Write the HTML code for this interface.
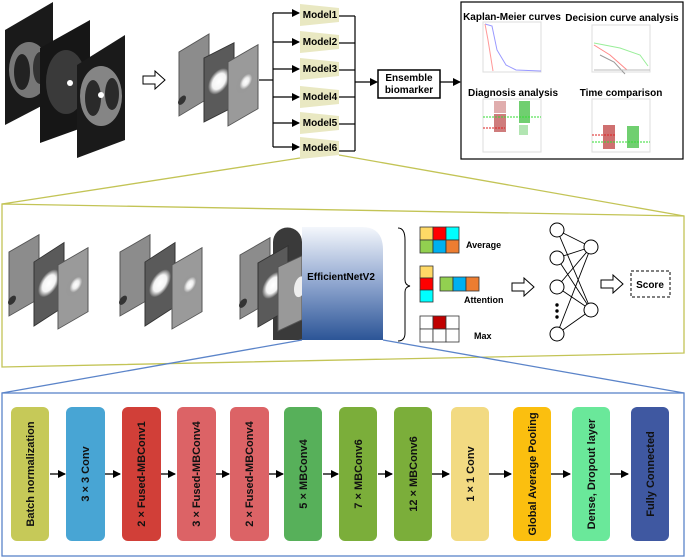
<!DOCTYPE html>
<html><head><meta charset="utf-8"><style>
html,body{margin:0;padding:0;background:#fff;}
svg{display:block;font-family:"Liberation Sans",Arial,sans-serif;}
</style></head><body>
<svg width="685" height="558" viewBox="0 0 685 558" xmlns="http://www.w3.org/2000/svg">
<defs>
<radialGradient id="spot" cx="0.55" cy="0.5" r="0.35"><stop offset="0" stop-color="#fff"/><stop offset="0.5" stop-color="#eee"/><stop offset="1" stop-color="#999"/></radialGradient>
<radialGradient id="spot2" cx="0.5" cy="0.5" r="0.5"><stop offset="0" stop-color="#fff"/><stop offset="0.6" stop-color="#f4f4f4"/><stop offset="1" stop-color="#5a5a5a"/></radialGradient>
<linearGradient id="eff" x1="0" y1="0" x2="0" y2="1"><stop offset="0" stop-color="#f4f7fc"/><stop offset="0.5" stop-color="#8fa6cf"/><stop offset="1" stop-color="#2c5597"/></linearGradient>
<marker id="ah" markerWidth="8" markerHeight="8" refX="7" refY="4" orient="auto" markerUnits="userSpaceOnUse"><path d="M0,0 L8,4 L0,8 z" fill="#000"/></marker>
<g id="pA"><rect width="30" height="64" fill="#8c8c8c" stroke="#555" stroke-width="1"/><ellipse cx="3" cy="50" rx="4" ry="4" fill="#333"/></g>
<g id="pB"><rect width="30" height="64" fill="#5a5a5a" stroke="#333" stroke-width="1"/><ellipse cx="15" cy="31" rx="11" ry="12" fill="url(#spot2)"/></g>
<g id="pC"><rect width="30" height="64" fill="#9a9a9a" stroke="#555" stroke-width="1"/><ellipse cx="17" cy="30" rx="9" ry="10" fill="url(#spot)"/></g>
<path id="hollow" d="M0,-4 L12,-4 L12,-9 L22,0 L12,9 L12,4 L0,4 z" fill="#fff" stroke="#000" stroke-width="1"/>
</defs>

<!-- CT slices -->
<g>
<polygon points="5,30 53,2 53,100 5,125" fill="#1a1a1a"/>
<ellipse cx="29" cy="70" rx="20" ry="28" fill="#777"/><ellipse cx="22" cy="72" rx="8" ry="18" fill="#222"/><ellipse cx="40" cy="68" rx="7" ry="16" fill="#333"/>
<polygon points="40,48 90,20 90,125 40,143" fill="#161616"/>
<ellipse cx="66" cy="82" rx="20" ry="32" fill="#3a3a3a"/><circle cx="70" cy="83" r="3" fill="#fff"/>
<polygon points="77,65 125,35 125,140 77,158" fill="#1a1a1a"/>
<ellipse cx="101" cy="96" rx="21" ry="30" fill="#858585"/><ellipse cx="93" cy="98" rx="8" ry="18" fill="#2a2a2a"/><ellipse cx="112" cy="94" rx="7" ry="16" fill="#2a2a2a"/><circle cx="101" cy="95" r="3" fill="#fff"/>
</g>
<use href="#hollow" x="143" y="80"/>
<g transform="translate(179,52) skewY(-31)"><use href="#pA"/></g>
<g transform="translate(204,58) skewY(-27)"><use href="#pB"/></g>
<g transform="translate(228,62) skewY(-30)"><use href="#pC"/></g>
<g stroke="#000" stroke-width="1.2" fill="none">
<line x1="259" y1="80" x2="273" y2="80"/>
<line x1="273" y1="13" x2="273" y2="147"/>
<line x1="273" y1="13" x2="299" y2="13" marker-end="url(#ah)"/>
<line x1="273" y1="42" x2="299" y2="42" marker-end="url(#ah)"/>
<line x1="273" y1="69" x2="299" y2="69" marker-end="url(#ah)"/>
<line x1="273" y1="97" x2="299" y2="97" marker-end="url(#ah)"/>
<line x1="273" y1="123" x2="299" y2="123" marker-end="url(#ah)"/>
<line x1="273" y1="147" x2="299" y2="147" marker-end="url(#ah)"/>
<line x1="355" y1="16" x2="355" y2="151"/>
<line x1="339" y1="16" x2="355" y2="16"/><line x1="339" y1="43" x2="355" y2="43"/><line x1="339" y1="70" x2="355" y2="70"/><line x1="339" y1="97" x2="355" y2="97"/><line x1="339" y1="124" x2="355" y2="124"/><line x1="339" y1="151" x2="355" y2="151"/>
<line x1="355" y1="82" x2="377" y2="82" marker-end="url(#ah)"/>
<line x1="440" y1="82" x2="460" y2="82" marker-end="url(#ah)"/>
</g>
<g font-size="10" font-weight="bold" text-anchor="middle">
<g fill="#e9e8c2"><polygon points="300,4 339,8 339,22 300,26"/><polygon points="300,31 339,35 339,49 300,53"/><polygon points="300,58 339,62 339,76 300,80"/><polygon points="300,86 339,90 339,104 300,108"/><polygon points="300,112 339,116 339,130 300,134"/><polygon points="300,137 339,141 339,155 300,159"/></g>
<text x="320" y="18">Model1</text><text x="320" y="45">Model2</text><text x="320" y="72">Model3</text><text x="320" y="100">Model4</text><text x="320" y="126">Model5</text><text x="320" y="151">Model6</text>
</g>
<rect x="378" y="70" width="62" height="28" fill="#fff" stroke="#000" stroke-width="1.5"/>
<text x="409" y="81" font-size="10" font-weight="bold" text-anchor="middle">Ensemble</text>
<text x="409" y="93" font-size="10" font-weight="bold" text-anchor="middle">biomarker</text>
<rect x="461" y="2" width="222" height="157" fill="#fff" stroke="#000" stroke-width="1.2"/>
<g font-size="10" font-weight="bold" text-anchor="middle">
<text x="512" y="20">Kaplan-Meier curves</text><text x="622" y="21">Decision curve analysis</text>
<text x="513" y="96">Diagnosis analysis</text><text x="621" y="96">Time comparison</text>
</g>
<g fill="#fff" stroke="#ddd"><rect x="483" y="22" width="58" height="50"/><rect x="592" y="25" width="58" height="47"/><rect x="483" y="99" width="58" height="53"/><rect x="592" y="99" width="58" height="53"/></g>
<path d="M485,24 L492,26 L497,50 L506,65 L516,70 L541,71" fill="none" stroke="#99f" stroke-width="1"/>
<path d="M485,24 L488,40 L493,71" fill="none" stroke="#f99" stroke-width="1"/>
<path d="M594,43 L620,48 L640,55 L648,66" fill="none" stroke="#9e9" stroke-width="1"/>
<path d="M594,45 L610,55 L627,70 L650,70" fill="none" stroke="#f88" stroke-width="1"/>
<path d="M600,55 L614,62 L625,74" fill="none" stroke="#999" stroke-width="1"/>
<line x1="594" y1="70" x2="650" y2="70" stroke="#bbb"/>
<rect x="494" y="101" width="12" height="12" fill="#c77" opacity="0.6"/><rect x="494" y="114" width="12" height="18" fill="#b44" opacity="0.7"/><rect x="519" y="101" width="11" height="22" fill="#3b3" opacity="0.7"/><rect x="519" y="125" width="9" height="10" fill="#6c6" opacity="0.5"/>
<line x1="483" y1="117" x2="541" y2="117" stroke="#3d3" stroke-dasharray="2,1"/><line x1="483" y1="128" x2="505" y2="128" stroke="#d22" stroke-dasharray="2,1"/>
<rect x="603" y="125" width="12" height="24" fill="#b33" opacity="0.7"/><rect x="627" y="126" width="12" height="22" fill="#3b3" opacity="0.7"/>
<line x1="592" y1="135" x2="615" y2="135" stroke="#d22" stroke-dasharray="2,1"/><line x1="592" y1="142" x2="650" y2="142" stroke="#3d3" stroke-dasharray="2,1"/>

<g stroke="#c3c456" stroke-width="1.3" fill="none">
<line x1="300" y1="158" x2="2" y2="204"/><line x1="339" y1="155" x2="684" y2="216"/>
<polygon points="2,204 684,216 684,353 2,367"/>
</g>
<g transform="translate(9,252) skewY(-30)"><use href="#pA"/></g>
<g transform="translate(34,262) skewY(-33)"><use href="#pB"/></g>
<g transform="translate(58,265) skewY(-30)"><use href="#pC"/></g>
<g transform="translate(120,252) skewY(-30)"><use href="#pA"/></g>
<g transform="translate(145,262) skewY(-33)"><use href="#pB"/></g>
<g transform="translate(172,265) skewY(-30)"><use href="#pC"/></g>
<path d="M273,340 L273,242 A14,14 0 0 1 302,242 L302,340 z" fill="#3a3a3a"/>
<g transform="translate(240,255) skewY(-30)"><use href="#pA"/></g>
<g transform="translate(258,263) skewY(-30)"><use href="#pB"/></g>
<g transform="translate(278,267) skewY(-25)"><rect width="24" height="64" fill="#999" stroke="#555"/><ellipse cx="22" cy="30" rx="6" ry="10" fill="#eee"/></g>
<path d="M302,227 L362,227 Q383,227 383,250 L383,340 L302,340 z" fill="url(#eff)"/>
<text x="341" y="280" font-size="10" font-weight="bold" text-anchor="middle">EfficientNetV2</text>
<path d="M398,228 Q405,228 405,240 L405,280 Q405,285 410,286 Q405,287 405,292 L405,333 Q405,341 398,341" fill="none" stroke="#000" stroke-width="1"/>
<g stroke="#333" stroke-width="0.8">
<rect x="420" y="227" width="13" height="13" fill="#ffd966"/><rect x="433" y="227" width="13" height="13" fill="#f00"/><rect x="446" y="227" width="13" height="13" fill="#0ff"/>
<rect x="420" y="240" width="13" height="13" fill="#92d050"/><rect x="433" y="240" width="13" height="13" fill="#00b0f0"/><rect x="446" y="240" width="13" height="13" fill="#ed7d31"/>
<rect x="420" y="266" width="13" height="12" fill="#ffd966"/><rect x="420" y="278" width="13" height="12" fill="#f00"/><rect x="420" y="290" width="13" height="12" fill="#0ff"/>
<rect x="440" y="277" width="13" height="14" fill="#92d050"/><rect x="453" y="277" width="13" height="14" fill="#00b0f0"/><rect x="466" y="277" width="13" height="14" fill="#ed7d31"/>
<rect x="420" y="316" width="13" height="13" fill="#fff"/><rect x="433" y="316" width="13" height="13" fill="#c00000"/><rect x="446" y="316" width="13" height="13" fill="#fff"/>
<rect x="420" y="329" width="13" height="13" fill="#fff"/><rect x="433" y="329" width="13" height="13" fill="#fff"/><rect x="446" y="329" width="13" height="13" fill="#fff"/>
</g>
<g font-size="9" font-weight="bold"><text x="466" y="248">Average</text><text x="464" y="303">Attention</text><text x="474" y="339">Max</text></g>
<use href="#hollow" x="512" y="287"/>
<g stroke="#000" stroke-width="0.9" fill="none">
<path d="M557,230 L591,247 M557,230 L591,310 M557,258 L591,247 M557,258 L591,310 M557,287 L591,247 M557,287 L591,310 M557,334 L591,247 M557,334 L591,310"/>
</g>
<g fill="#fff" stroke="#000" stroke-width="1"><circle cx="557" cy="230" r="7"/><circle cx="557" cy="258" r="7"/><circle cx="557" cy="287" r="7"/><circle cx="557" cy="334" r="7"/><circle cx="591" cy="247" r="7"/><circle cx="591" cy="310" r="7"/></g>
<g fill="#000"><circle cx="557" cy="305" r="1.7"/><circle cx="557" cy="311" r="1.7"/><circle cx="557" cy="317" r="1.7"/></g>
<use href="#hollow" x="601" y="284"/>
<rect x="631" y="271" width="39" height="26" fill="#fff" stroke="#000" stroke-dasharray="3,2"/>
<text x="650" y="288" font-size="10" font-weight="bold" text-anchor="middle">Score</text>

<g stroke="#5b84c9" stroke-width="1.3" fill="none">
<line x1="302" y1="340" x2="2" y2="393"/><line x1="383" y1="340" x2="684" y2="393"/>
<rect x="2" y="393" width="682" height="163"/>
</g>
<g stroke="#222" stroke-width="1.5" fill="none">
<line x1="50" y1="474" x2="65" y2="474" marker-end="url(#ah)"/><line x1="105" y1="474" x2="120" y2="474" marker-end="url(#ah)"/><line x1="160" y1="474" x2="175" y2="474" marker-end="url(#ah)"/><line x1="215" y1="474" x2="229" y2="474" marker-end="url(#ah)"/><line x1="269" y1="474" x2="283" y2="474" marker-end="url(#ah)"/><line x1="323" y1="474" x2="338" y2="474" marker-end="url(#ah)"/><line x1="378" y1="474" x2="392" y2="474" marker-end="url(#ah)"/><line x1="432" y1="474" x2="449" y2="474" marker-end="url(#ah)"/><line x1="489" y1="474" x2="511" y2="474" marker-end="url(#ah)"/><line x1="551" y1="474" x2="570" y2="474" marker-end="url(#ah)"/><line x1="610" y1="474" x2="628" y2="474" marker-end="url(#ah)"/>
</g>
<g>
<rect x="11" y="407" width="38" height="134" rx="6" fill="#c6c958"/>
<rect x="66" y="407" width="39" height="134" rx="6" fill="#48a5d4"/>
<rect x="122" y="407" width="39" height="134" rx="6" fill="#d13f38"/>
<rect x="177" y="407" width="39" height="134" rx="6" fill="#dc6366"/>
<rect x="230" y="407" width="39" height="134" rx="6" fill="#dc6366"/>
<rect x="284" y="407" width="38" height="134" rx="6" fill="#57b05a"/>
<rect x="339" y="407" width="38" height="134" rx="6" fill="#7bae3a"/>
<rect x="394" y="407" width="38" height="134" rx="6" fill="#7bae3a"/>
<rect x="451" y="407" width="38" height="134" rx="6" fill="#f2da82"/>
<rect x="513" y="407" width="38" height="134" rx="6" fill="#fbbf0f"/>
<rect x="572" y="407" width="38" height="134" rx="6" fill="#6ae89a"/>
<rect x="631" y="407" width="38" height="134" rx="6" fill="#3f58a1"/>
</g>
<g font-size="11" font-weight="bold" fill="#111" text-anchor="middle">
<text transform="translate(34,474) rotate(-90)">Batch normalization</text>
<text transform="translate(89,474) rotate(-90)">3 × 3 Conv</text>
<text transform="translate(145,474) rotate(-90)">2 × Fused-MBConv1</text>
<text transform="translate(200,474) rotate(-90)">3 × Fused-MBConv4</text>
<text transform="translate(253,474) rotate(-90)">2 × Fused-MBConv4</text>
<text transform="translate(307,474) rotate(-90)">5 × MBConv4</text>
<text transform="translate(362,474) rotate(-90)">7 × MBConv6</text>
<text transform="translate(417,474) rotate(-90)">12 × MBConv6</text>
<text transform="translate(474,474) rotate(-90)">1 × 1 Conv</text>
<text transform="translate(536,474) rotate(-90)">Global Average Pooling</text>
<text transform="translate(595,474) rotate(-90)">Dense, Dropout layer</text>
<text transform="translate(654,474) rotate(-90)">Fully Connected</text>
</g>
</svg>
</body></html>
